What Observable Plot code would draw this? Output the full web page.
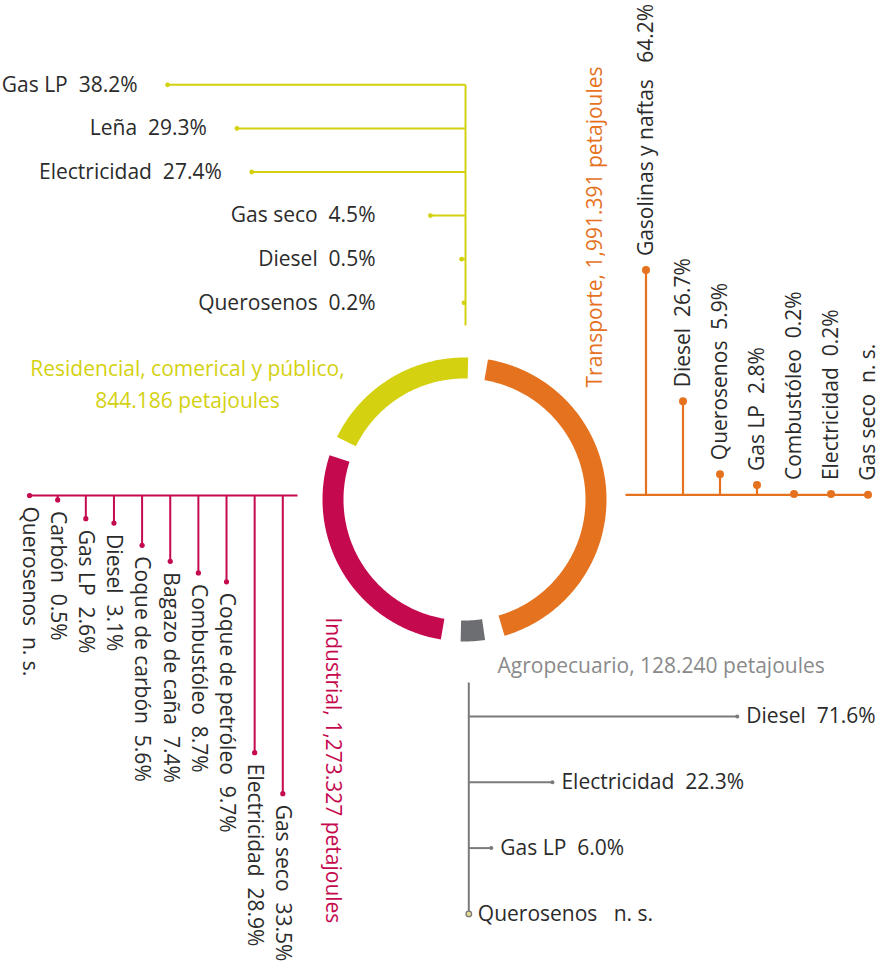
<!DOCTYPE html>
<html><head><meta charset="utf-8">
<script src="https://cdn.jsdelivr.net/npm/d3@7"></script>
<script src="https://cdn.jsdelivr.net/npm/@observablehq/plot@0.6"></script>
<style>html,body{margin:0;padding:0;background:#fff}</style>
</head><body><div id="chart"></div>
<script>
// ---- data ----
const sectorNames = ["Transporte", "Agropecuario", "Industrial", "Residencial, comerical y público"];
const sectorPetajoules = [1991.391, 128.240, 1273.327, 844.186];

const residencialFuels = ["Gas LP", "Leña", "Electricidad", "Gas seco", "Diesel", "Querosenos"];
const residencialPct = [38.2, 29.3, 27.4, 4.5, 0.5, 0.2];

const transporteFuels = ["Gasolinas y naftas", "Diesel", "Querosenos", "Gas LP", "Combustóleo", "Electricidad", "Gas seco"];
const transportePct = [64.2, 26.7, 5.9, 2.8, 0.2, 0.2, null];

const industrialFuels = ["Gas seco", "Electricidad", "Coque de petróleo", "Combustóleo", "Bagazo de caña", "Coque de carbón", "Diesel", "Gas LP", "Carbón", "Querosenos"];
const industrialPct = [33.5, 28.9, 9.7, 8.7, 7.4, 5.6, 3.1, 2.6, 0.5, null];

const agroFuels = ["Diesel", "Electricidad", "Gas LP", "Querosenos"];
const agroPct = [71.6, 22.3, 6.0, null];

// ---- styles / layout ----
const W = 881, H = 964;
const COL = {Transporte: "#e5721f", Agropecuario: "#6d6e71", Industrial: "#c5094f", Res: "#d4d110"};
const agroLine = "#7a7a7d", agroTitle = "#8a8a8a", txt = "#2b2b2b";
const FONT = "'Open Sans', sans-serif";
const FS = 21;
const pctFmt = v => v == null ? "n.\u00a0s." : d3.format(".1f")(v) + "%";
const pjFmt = d3.format(",.3f");
const c = v => () => v;

// donut
const ring = {cx: 464, cy: 499, r: 131.5, w: 21, start: 9.5, gap: 8};
const total = d3.sum(sectorPetajoules);
const avail = 360 - 4 * ring.gap;
let ang = ring.start;
const arcs = sectorNames.map((s, i) => {
  const span = avail * sectorPetajoules[i] / total;
  const n = Math.max(2, Math.ceil(span * 2));
  const pts = d3.range(n + 1).map(j => {
    const t = (ang + span * j / n) * Math.PI / 180;
    return {x: ring.cx + ring.r * Math.sin(t), y: ring.cy - ring.r * Math.cos(t)};
  });
  ang += span + ring.gap;
  return pts;
});

// residencial panel (bars to the left of a vertical stem)
const res = {stemX: 465, y0: 84.3, step: 43.6, k: 7.8, stemBottom: 325};
const resRows = residencialFuels.map((f, i) => {
  const v = residencialPct[i];
  const x2 = res.stemX - v * res.k;
  return {f, v, y: res.y0 + i * res.step, x2, lx: res.stemX - Math.max(v * res.k + 30, 90)};
});

// transporte panel (bars upward from horizontal baseline)
const tr = {baseY: 494.3, x0: 645.5, step: 37, k: 3.5, xStart: 625};
const trRows = transporteFuels.map((f, i) => {
  const v = transportePct[i];
  return {f, v, x: tr.x0 + i * tr.step, y2: tr.baseY - (v || 0) * tr.k};
});

// industrial panel (bars downward from horizontal baseline)
const ind = {baseY: 495, x0: 282.3, step: -28.14, k: 8.9, xEnd: 297};
const indRows = industrialFuels.map((f, i) => {
  const v = industrialPct[i];
  return {f, v, x: ind.x0 + i * ind.step, y2: ind.baseY + (v || 0) * ind.k};
});

// agropecuario panel (bars to the right of a vertical stem)
const ag = {stemX: 468.3, y0: 716, step: 65.8, k: 3.75, stemTop: 682};
const agRows = agroFuels.map((f, i) => {
  const v = agroPct[i];
  return {f, v, y: ag.y0 + i * ag.step, x2: ag.stemX + (v || 0) * ag.k};
});

const T = {fontFamily: FONT, fontSize: FS};

const marks = [
  // donut arcs
  ...arcs.map((pts, i) => Plot.line(pts, {x: "x", y: "y", stroke: [COL.Transporte, COL.Agropecuario, COL.Industrial, COL.Res][i], strokeWidth: ring.w, strokeLinecap: "butt", curve: "linear"})),

  // residencial
  Plot.link([0], {x1: c(res.stemX), x2: c(res.stemX), y1: c(res.y0), y2: c(res.stemBottom), stroke: COL.Res, strokeWidth: 2}),
  Plot.link(resRows, {x1: c(res.stemX), x2: "x2", y1: "y", y2: "y", stroke: COL.Res, strokeWidth: 2}),
  Plot.dot(resRows, {x: "x2", y: "y", r: 2.4, fill: COL.Res}),
  Plot.text(resRows, {...T, x: "lx", y: "y", text: d => d.f + "\u00a0\u00a0" + pctFmt(d.v), textAnchor: "end", fill: txt}),
  Plot.text([0], {...T, x: c(187), y: c(381), text: c(sectorNames[3] + ",\n" + pjFmt(sectorPetajoules[3]) + " petajoules"), lineHeight: 1.55, fill: COL.Res}),

  // transporte
  Plot.link([0], {x1: c(tr.xStart), x2: c(tr.x0 + (transporteFuels.length - 1) * tr.step), y1: c(tr.baseY), y2: c(tr.baseY), stroke: COL.Transporte, strokeWidth: 2.2}),
  Plot.link(trRows, {x1: "x", x2: "x", y1: c(tr.baseY), y2: "y2", stroke: COL.Transporte, strokeWidth: 2.2}),
  Plot.dot(trRows, {x: "x", y: "y2", r: 4, fill: COL.Transporte}),
  Plot.text(trRows, {...T, x: "x", y: d => d.y2 - 14, rotate: -90, textAnchor: "start", text: d => d.f + (d.f === "Gasolinas y naftas" ? "\u00a0\u00a0\u00a0" : "\u00a0\u00a0") + pctFmt(d.v), fill: txt}),
  Plot.text([0], {...T, x: c(595), y: c(387), rotate: -90, textAnchor: "start", text: c(sectorNames[0] + ", " + pjFmt(sectorPetajoules[0]) + " petajoules"), fill: COL.Transporte}),

  // industrial
  Plot.link([0], {x1: c(ind.x0 + (industrialFuels.length - 1) * ind.step), x2: c(ind.xEnd), y1: c(ind.baseY), y2: c(ind.baseY), stroke: COL.Industrial, strokeWidth: 2}),
  Plot.link(indRows, {x1: "x", x2: "x", y1: c(ind.baseY), y2: "y2", stroke: COL.Industrial, strokeWidth: 2}),
  Plot.dot(indRows, {x: "x", y: "y2", r: 2.6, fill: COL.Industrial}),
  Plot.text(indRows, {...T, x: "x", y: d => d.y2 + 11, rotate: 90, textAnchor: "start", text: d => d.f + "\u00a0\u00a0" + pctFmt(d.v), fill: txt}),
  Plot.text([0], {...T, x: c(332), y: c(617), rotate: 90, textAnchor: "start", text: c(sectorNames[2] + ", " + pjFmt(sectorPetajoules[2]) + " petajoules"), fill: COL.Industrial}),

  // agropecuario
  Plot.link([0], {x1: c(ag.stemX), x2: c(ag.stemX), y1: c(ag.stemTop), y2: c(ag.y0 + (agroFuels.length - 1) * ag.step), stroke: agroLine, strokeWidth: 2}),
  Plot.link(agRows.filter(d => d.v != null), {x1: c(ag.stemX), x2: "x2", y1: "y", y2: "y", stroke: agroLine, strokeWidth: 2}),
  Plot.dot(agRows.filter(d => d.v != null), {x: "x2", y: "y", r: 2, fill: agroLine}),
  Plot.dot(agRows.filter(d => d.v == null), {x: "x2", y: "y", r: 2.8, fill: "#e6dc8f", stroke: agroLine, strokeWidth: 1.3}),
  Plot.text(agRows, {...T, x: d => d.x2 + 9, y: "y", textAnchor: "start", text: d => d.f + "\u00a0\u00a0" + (d.v == null ? "\u00a0" : "") + pctFmt(d.v), fill: txt}),
  Plot.text([0], {...T, x: c(497), y: c(666), textAnchor: "start", text: c(sectorNames[1] + ", " + pjFmt(sectorPetajoules[1]) + " petajoules"), fill: agroTitle})
];

const chart = Plot.plot({
  width: W, height: H,
  margin: 0,
  x: {domain: [0, W], range: [0, W], axis: null},
  y: {domain: [0, H], range: [0, H], axis: null},
  style: {fontFamily: FONT, background: "#fff"},
  marks
});
document.getElementById("chart").appendChild(chart);
</script>
</body></html>
